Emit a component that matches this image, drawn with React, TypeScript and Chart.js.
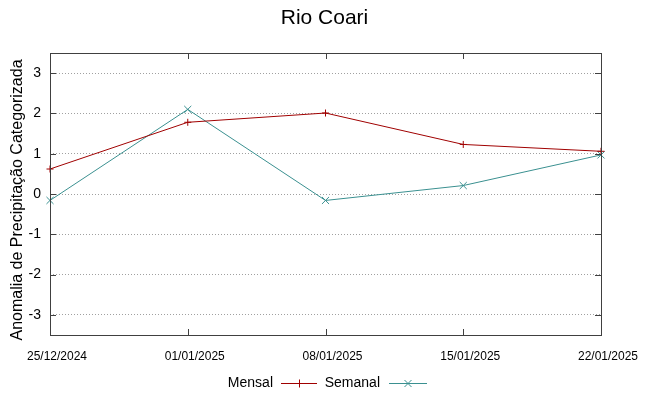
import { useEffect, useRef } from "react";
import { Chart, registerables } from "chart.js";
Chart.register(...registerables);

const dates = ["25/12/2024", "01/01/2025", "08/01/2025", "15/01/2025", "22/01/2025"];
const mensal = [0.62, 1.78, 2.01, 1.23, 1.06];
const semanal = [-0.16, 2.1, -0.16, 0.21, 0.97];
const yTicks = [-3, -2, -1, 0, 1, 2, 3];
const titleText = "Rio Coari";
const yTitle = "Anomalia de Precipitação Categorizada";
const seriesNames = ["Mensal", "Semanal"];

const RED = "#a00000";
const TEAL = "#3a9090";
const FONT = "'Liberation Sans', Arial, sans-serif";

const decorPlugin = {
  id: "decor",
  afterDraw(chart: any) {
    const ctx = chart.ctx as CanvasRenderingContext2D;
    const { left, right, top, bottom } = chart.chartArea;
    const ys = chart.scales.y;
    const xs = chart.scales.x;
    ctx.save();
    ctx.strokeStyle = "#404040";
    ctx.lineWidth = 1;
    ctx.setLineDash([]);
    ctx.beginPath();
    for (const v of yTicks) {
      const py = Math.round(ys.getPixelForValue(v)) + 0.5;
      ctx.moveTo(left, py);
      ctx.lineTo(left + 6, py);
      ctx.moveTo(right, py);
      ctx.lineTo(right - 6, py);
    }
    for (let i = 0; i < dates.length; i++) {
      const px = Math.round(xs.getPixelForValue(i)) + 0.5;
      ctx.moveTo(px, bottom);
      ctx.lineTo(px, bottom - 6);
      ctx.moveTo(px, top);
      ctx.lineTo(px, top + 6);
    }
    ctx.stroke();
    ctx.strokeRect(Math.round(left) + 0.5, Math.round(top) + 0.5, Math.round(right - left), Math.round(bottom - top));
    // title
    ctx.fillStyle = "#000";
    ctx.font = `21px ${FONT}`;
    ctx.textAlign = "center";
    ctx.textBaseline = "middle";
    ctx.fillText(titleText, chart.width / 2, 18);
    // y axis title
    ctx.save();
    ctx.translate(18, 200);
    ctx.rotate(-Math.PI / 2);
    ctx.font = `16px ${FONT}`;
    ctx.fillText(yTitle, 0, 0);
    ctx.restore();
    // legend
    ctx.font = `14px ${FONT}`;
    ctx.textAlign = "right";
    const ly = 383;
    const items = [
      { name: seriesNames[0], textRight: 273, x0: 281, x1: 317, color: RED, cross: false },
      { name: seriesNames[1], textRight: 380, x0: 389, x1: 427, color: TEAL, cross: true },
    ];
    for (const it of items) {
      ctx.fillStyle = "#000";
      ctx.fillText(it.name, it.textRight, ly);
      ctx.strokeStyle = it.color;
      ctx.beginPath();
      ctx.moveTo(it.x0, ly + 0.5);
      ctx.lineTo(it.x1, ly + 0.5);
      const mx = (it.x0 + it.x1) / 2;
      if (it.cross) {
        ctx.moveTo(mx - 3.5, ly - 3);
        ctx.lineTo(mx + 3.5, ly + 4);
        ctx.moveTo(mx - 3.5, ly + 4);
        ctx.lineTo(mx + 3.5, ly - 3);
      } else {
        ctx.moveTo(mx + 0.5, ly - 3.5);
        ctx.lineTo(mx + 0.5, ly + 4.5);
      }
      ctx.stroke();
    }
    ctx.restore();
  },
};

export default function App() {
  const ref = useRef<HTMLCanvasElement>(null);
  useEffect(() => {
    document.body.style.margin = "0";
    const chart = new Chart(ref.current!, {
      type: "line",
      data: {
        labels: dates,
        datasets: [
          {
            label: seriesNames[0],
            data: mensal,
            borderColor: RED,
            backgroundColor: RED,
            borderWidth: 1,
            pointStyle: "cross",
            pointRadius: 3.5,
            pointBorderWidth: 1,
            pointBorderColor: RED,
            tension: 0,
            clip: false as any,
          },
          {
            label: seriesNames[1],
            data: semanal,
            borderColor: TEAL,
            backgroundColor: TEAL,
            borderWidth: 1,
            pointStyle: "crossRot",
            pointRadius: 5,
            pointBorderWidth: 1,
            pointBorderColor: TEAL,
            tension: 0,
            clip: false as any,
          },
        ],
      },
      options: {
        animation: false,
        responsive: false,
        layout: { padding: { top: 53, right: 48, bottom: 31, left: 0 } },
        plugins: {
          legend: { display: false },
          title: { display: false },
          tooltip: { enabled: false },
        },
        scales: {
          x: {
            type: "category",
            offset: false,
            grid: { display: false },
            border: { display: false },
            ticks: {
              color: "#000",
              font: { family: FONT, size: 12 },
              padding: 6,
              labelOffset: 7,
              maxRotation: 0,
              autoSkip: false,
            },
            afterFit: (s: any) => {
              s.height = 30;
            },
          },
          y: {
            min: -3.5,
            max: 3.5,
            afterBuildTicks: (s: any) => {
              s.ticks = yTicks.map((v) => ({ value: v }));
            },
            afterFit: (s: any) => {
              s.width = 50;
            },
            grid: { color: "#a0a0a0", lineWidth: 1, drawTicks: false },
            border: { display: false, dash: [1, 2] },
            ticks: {
              color: "#000",
              font: { family: FONT, size: 14 },
              padding: 9,
            },
            title: { display: false },
          },
        },
      },
      plugins: [decorPlugin],
    });
    return () => chart.destroy();
  }, []);
  return <canvas ref={ref} width={649} height={396} style={{ display: "block" }} />;
}
